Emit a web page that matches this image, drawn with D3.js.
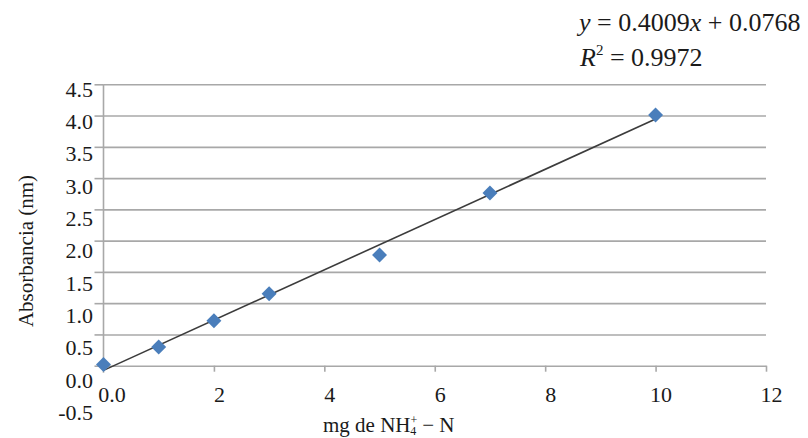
<!DOCTYPE html>
<html>
<head>
<meta charset="utf-8">
<script src="https://cdn.jsdelivr.net/npm/d3@7"></script>
<style>
  body { margin: 0; background: #fff; }
  svg text { font-family: "Times New Roman", "Liberation Serif", "DejaVu Serif", "Noto Serif", serif; fill: #1a1a1a; }
</style>
</head>
<body>
<div id="chart"></div>
<script>
/* data */
var conc = [0, 1, 2, 3, 5, 7, 10];              // mg de NH4+ - N
var absorb = [0.02, 0.30, 0.72, 1.15, 1.77, 2.76, 4.01];
var xTicks = [0, 2, 4, 6, 8, 10, 12];
var yTicks = [-0.5, 0, 0.5, 1, 1.5, 2, 2.5, 3, 3.5, 4, 4.5];
var eqSlope = "0.4009", eqIntercept = "0.0768", eqR2 = "0.9972";

/* size of the graphic */
var width = 808, height = 438;
var plotLeft = 103.5, plotRight = 766, plotTop = 84.3, zeroY = 365.7;
var serif = "'Times New Roman', 'Liberation Serif', 'DejaVu Serif', serif";

var svg = d3.select("#chart")
	.append("svg")
		.attr("width", width)
		.attr("height", height);

var x = d3.scaleLinear().domain([0, 12]).range([plotLeft, plotRight]);
var y = d3.scaleLinear().domain([0, 4.5]).range([zeroY, plotTop]);
// tick labels in the figure sit on a slightly wider spacing than the gridlines
var yLab = d3.scaleLinear().domain([-0.5, 4.5]).range([419.5, 96]);

var gridColor = "#a8a8a8";

/* horizontal gridlines */
svg.append("g")
	.attr("transform", "translate(" + plotLeft + ",0)")
	.call(d3.axisLeft(y).tickValues(yTicks.filter(function(d) { return d > 0; }))
		.tickSize(-(plotRight - plotLeft)).tickFormat(""))
	.call(function(g) {
		g.select(".domain").remove();
		g.selectAll("line").attr("stroke", gridColor).attr("stroke-width", 1.6);
	});

/* small ticks on the y axis */
svg.append("g")
	.attr("transform", "translate(" + plotLeft + ",0)")
	.call(d3.axisLeft(y).tickValues(yTicks.filter(function(d) { return d >= 0; }))
		.tickSize(9).tickFormat(""))
	.call(function(g) {
		g.select(".domain").remove();
		g.selectAll("line").attr("stroke", gridColor).attr("stroke-width", 1.6);
	});

/* y axis line */
svg.append("line")
	.attr("x1", plotLeft).attr("x2", plotLeft)
	.attr("y1", y(4.5)).attr("y2", zeroY + 7)
	.attr("stroke", gridColor).attr("stroke-width", 1.6);

/* y tick labels */
svg.append("g")
	.attr("font-family", null)
	.attr("transform", "translate(" + (plotLeft - 10.5) + ",0)")
	.call(d3.axisLeft(yLab).tickValues(yTicks).tickSize(0).tickPadding(0))
	.call(function(g) {
		g.attr("font-family", serif);
		g.select(".domain").remove();
		g.selectAll("text")
			.attr("dy", 0)
			.style("font-size", "22px")
			.style("font-family", serif)
			.attr("fill", "#1a1a1a")
			.text(function(d) { return d < 0 ? "-" + Math.abs(d).toFixed(1) : d.toFixed(1); });
	});

/* x axis */
svg.append("g")
	.attr("transform", "translate(0," + zeroY + ")")
	.call(d3.axisBottom(x).tickValues(xTicks).tickSizeInner(6).tickSizeOuter(0)
		.tickFormat(function(d) { return d === 0 ? "0.0" : d; }))
	.call(function(g) {
		g.attr("font-family", serif);
		g.select(".domain").attr("stroke", gridColor).attr("stroke-width", 1.6);
		g.selectAll("line").attr("stroke", gridColor).attr("stroke-width", 1.6);
		g.selectAll(".tick").filter(function(d) { return d === 0; }).select("line").remove();
		g.selectAll("text")
			.attr("y", 36).attr("dy", 0)
			.attr("dx", function(d) { return d === 0 ? 8 : 5; })
			.style("font-size", "22px")
			.style("font-family", serif)
			.attr("fill", "#1a1a1a");
	});

/* linear trend line, least squares on the points */
var mx = d3.mean(conc), my = d3.mean(absorb);
var sxy = d3.sum(conc, function(d, i) { return (d - mx) * (absorb[i] - my); });
var sxx = d3.sum(conc, function(d) { return (d - mx) * (d - mx); });
var b = sxy / sxx, a = my - b * mx;
var ext = d3.extent(conc);
svg.append("path")
	.datum(ext)
	.attr("d", d3.line()
		.x(function(d) { return x(d); })
		.y(function(d) { return y(a + b * d); }))
	.attr("fill", "none")
	.attr("stroke", "#3c3c3c")
	.attr("stroke-width", 1.6);

/* diamond markers */
svg.append("g").selectAll("path")
	.data(conc)
	.join("path")
		.attr("d", d3.symbol(d3.symbolSquare, 112))
		.attr("transform", function(d, i) {
			return "translate(" + x(d) + "," + y(absorb[i]) + ") rotate(45)";
		})
		.attr("fill", "#4a7ebb");

/* axis titles */
svg.append("text")
	.attr("transform", "translate(33,251) rotate(-90)")
	.attr("text-anchor", "middle")
	.style("font-family", serif)
	.style("font-size", "21px")
	.text("Absorbancia (nm)");

var xt = svg.append("text")
	.attr("x", 323).attr("y", 432)
	.style("font-family", serif)
	.style("font-size", "21px");
xt.append("tspan").text("mg de NH");
xt.append("tspan").attr("dy", -8).style("font-size", "12px").text("+");
xt.append("tspan").attr("dx", -7).attr("dy", 11).style("font-size", "12px").text("4");
xt.append("tspan").attr("dy", -3).attr("dx", 6).text("\u2212 N");

/* regression equation */
var eq = svg.append("text")
	.attr("x", 579).attr("y", 31)
	.style("font-family", serif)
	.style("font-size", "26px");
eq.append("tspan").style("font-style", "italic").text("y");
eq.append("tspan").text(" = " + eqSlope);
eq.append("tspan").style("font-style", "italic").text("x");
eq.append("tspan").text(" + " + eqIntercept);

var rq = svg.append("text")
	.attr("x", 580).attr("y", 66)
	.style("font-family", serif)
	.style("font-size", "26px");
rq.append("tspan").style("font-style", "italic").text("R");
rq.append("tspan").attr("dy", -11).style("font-size", "15px").text("2");
rq.append("tspan").attr("dy", 11).text(" = " + eqR2);
</script>
</body>
</html>
